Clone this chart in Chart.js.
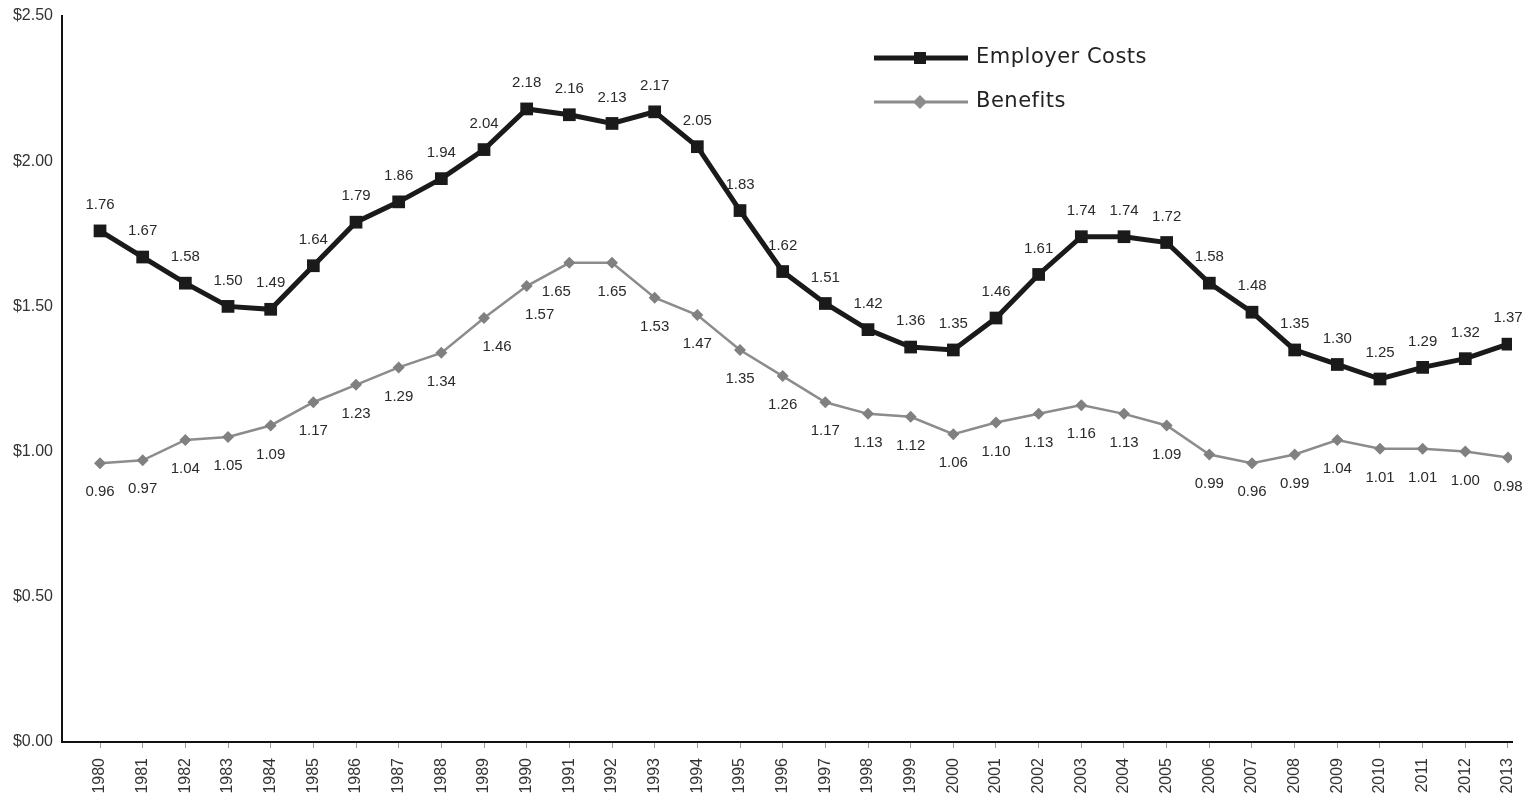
<!DOCTYPE html>
<html>
<head>
<meta charset="utf-8">
<script src="https://cdn.jsdelivr.net/npm/chart.js@4.4.0/dist/chart.umd.min.js"></script>
<style>
  html, body { margin: 0; padding: 0; background: #fff; }
  #wrap { width: 1530px; height: 804px; position: relative; }
</style>
</head>
<body>
<div id="wrap"><canvas id="grafica"></canvas></div>
<script>
var years = [];
for (var y = 1980; y <= 2013; y++) years.push(y);

var employerCosts = [1.76, 1.67, 1.58, 1.50, 1.49, 1.64, 1.79, 1.86, 1.94, 2.04,
                     2.18, 2.16, 2.13, 2.17, 2.05, 1.83, 1.62, 1.51, 1.42, 1.36,
                     1.35, 1.46, 1.61, 1.74, 1.74, 1.72, 1.58, 1.48, 1.35, 1.30,
                     1.25, 1.29, 1.32, 1.37];
var benefits = [0.96, 0.97, 1.04, 1.05, 1.09, 1.17, 1.23, 1.29, 1.34, 1.46,
                1.57, 1.65, 1.65, 1.53, 1.47, 1.35, 1.26, 1.17, 1.13, 1.12,
                1.06, 1.10, 1.13, 1.16, 1.13, 1.09, 0.99, 0.96, 0.99, 1.04,
                1.01, 1.01, 1.00, 0.98];
var yTicks = [0, 0.5, 1, 1.5, 2, 2.5];

function puntos(vals) {
  return vals.map(function (v, i) { return { x: years[i], y: v }; });
}

// corrimientos sueltos de algunas etiquetas de beneficios para que no tapen la linea
var corrimientoX = { 1989: 13, 1990: 13, 1991: -13 };

// etiquetas de valor: arriba para costos, abajo para beneficios
var etiquetas = {
  id: 'etiquetas',
  afterDatasetsDraw: function (chart) {
    var ctx = chart.ctx;
    ctx.save();
    ctx.font = '15px "Liberation Sans", Arial, sans-serif';
    ctx.fillStyle = '#2a2a2a';
    ctx.textAlign = 'center';
    ctx.textBaseline = 'middle';
    chart.data.datasets.forEach(function (ds, d) {
      var meta = chart.getDatasetMeta(d);
      meta.data.forEach(function (pt, i) {
        var off = d === 0 ? -26 : 29;
        var dx = d === 1 ? (corrimientoX[years[i]] || 0) : 0;
        ctx.fillText(ds.data[i].y.toFixed(2), pt.x + dx, pt.y + off);
      });
    });
    ctx.restore();
  }
};

// leyenda dibujada a mano, linea larga con el marcador al centro
var leyenda = {
  id: 'leyenda',
  afterDraw: function (chart) {
    var ctx = chart.ctx;
    var items = [
      { text: 'Employer Costs', color: '#1a1a1a', width: 5, y: 58, rect: true },
      { text: 'Benefits', color: '#8c8c8c', width: 3, y: 102, rect: false }
    ];
    ctx.save();
    items.forEach(function (it) {
      ctx.strokeStyle = it.color;
      ctx.lineWidth = it.width;
      ctx.beginPath();
      ctx.moveTo(874, it.y);
      ctx.lineTo(968, it.y);
      ctx.stroke();
      ctx.fillStyle = it.color;
      if (it.rect) {
        ctx.fillRect(914, it.y - 6, 12, 12);
      } else {
        ctx.beginPath();
        ctx.moveTo(920, it.y - 7);
        ctx.lineTo(927, it.y);
        ctx.lineTo(920, it.y + 7);
        ctx.lineTo(913, it.y);
        ctx.closePath();
        ctx.fill();
      }
      ctx.fillStyle = '#222';
      ctx.font = '21px "DejaVu Sans", sans-serif';
      ctx.letterSpacing = '0.5px';
      ctx.textAlign = 'left';
      ctx.textBaseline = 'middle';
      ctx.fillText(it.text, 976, it.y);
    });
    ctx.restore();
  }
};

var ctx = document.getElementById('grafica').getContext('2d');
var myChart = new Chart(ctx, {
  type: 'line',
  data: {
    datasets: [{
      label: 'Employer Costs',
      data: puntos(employerCosts),
      borderColor: '#1a1a1a',
      backgroundColor: '#1a1a1a',
      borderWidth: 5,
      pointStyle: 'rect',
      pointRadius: 9,
      pointBorderWidth: 0,
      tension: 0
    }, {
      label: 'Benefits',
      data: puntos(benefits),
      borderColor: '#8c8c8c',
      backgroundColor: '#808080',
      borderWidth: 2.5,
      pointStyle: 'rectRot',
      pointRadius: 6,
      pointBorderWidth: 0,
      tension: 0
    }]
  },
  options: {
    responsive: true,
    maintainAspectRatio: false,
    animation: false,
    layout: { padding: { top: 16, right: 18, left: 0, bottom: 0 } },
    scales: {
      x: {
        type: 'linear',
        min: 1979.109,
        max: 2013.094,
        afterFit: function (s) {
          s.height = 62;
          s.paddingLeft = 0;
          s.paddingRight = 0;
        },
        afterBuildTicks: function (s) {
          s.ticks = years.map(function (v) { return { value: v }; });
        },
        grid: {
          display: true,
          drawOnChartArea: false,
          drawTicks: true,
          tickLength: 6,
          color: '#999'
        },
        border: { display: true, color: '#111', width: 2 },
        ticks: {
          autoSkip: false,
          minRotation: 90,
          maxRotation: 90,
          padding: 10,
          color: '#333',
          font: { family: '"Liberation Sans", Arial, sans-serif', size: 16 },
          callback: function (v) { return String(v); }
        }
      },
      y: {
        min: 0,
        max: 2.5,
        afterFit: function (s) {
          s.width = 62;
          s.paddingTop = 0;
          s.paddingBottom = 0;
        },
        afterBuildTicks: function (s) {
          s.ticks = yTicks.map(function (v) { return { value: v }; });
        },
        grid: { display: false, drawTicks: false },
        border: { display: true, color: '#111', width: 2 },
        ticks: {
          padding: 9,
          color: '#333',
          font: { family: '"Liberation Sans", Arial, sans-serif', size: 16 },
          callback: function (v) { return '$' + Number(v).toFixed(2); }
        }
      }
    },
    plugins: {
      legend: { display: false },
      tooltip: { enabled: false }
    }
  },
  plugins: [etiquetas, leyenda]
});
</script>
</body>
</html>
